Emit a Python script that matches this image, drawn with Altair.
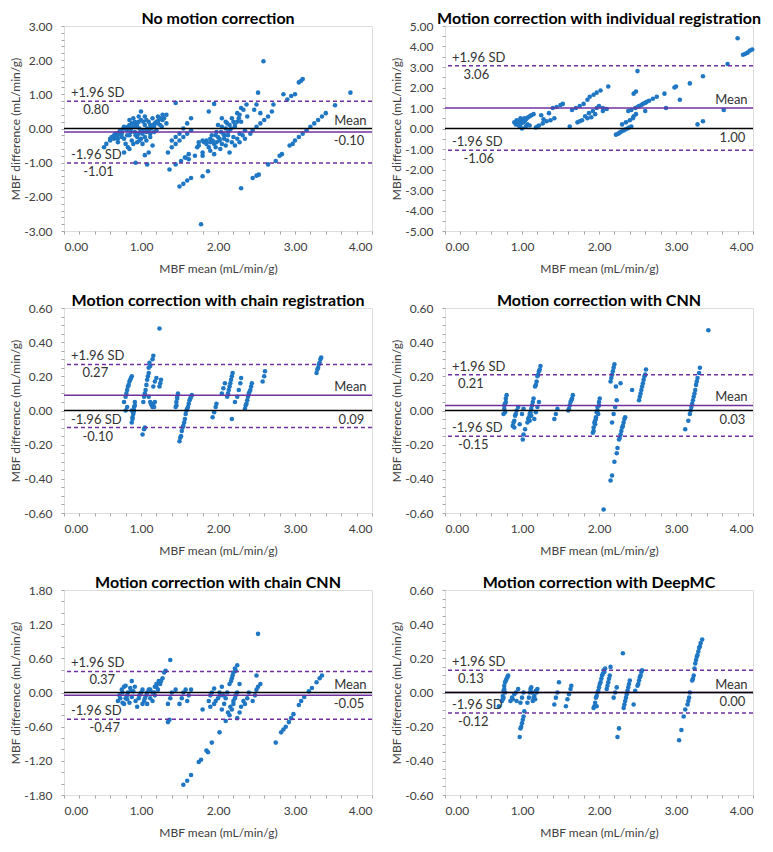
import altair as alt
import pandas as pd

FONT = "Lato"
POINT_COLOR = "#1F77C4"
PURPLE = "#7030A0"

TITLES = [
    "No motion correction",
    "Motion correction with individual registration",
    "Motion correction with chain registration",
    "Motion correction with CNN",
    "Motion correction with chain CNN",
    "Motion correction with DeepMC",
]
Y_MIN = [-3.0, -5.0, -0.6, -0.6, -1.8, -0.6]
Y_MAX = [3.0, 5.0, 0.6, 0.6, 1.8, 0.6]
Y_MAJOR = [1.0, 1.0, 0.2, 0.2, 0.6, 0.2]
Y_MINOR = [0.2, 0.5, 0.05, 0.05, 0.2, 0.05]
MEAN_DIFF = [-0.10, 1.00, 0.09, 0.03, -0.05, 0.00]
UPPER_LOA = [0.80, 3.06, 0.27, 0.21, 0.37, 0.13]
LOWER_LOA = [-1.01, -1.06, -0.10, -0.15, -0.47, -0.12]
VALUE_LABEL_X = [0.25, 0.24, 0.24, 0.17, 0.33, 0.17]

# (MBF mean, MBF difference)
P1 = [
    (0.52, -0.55), (0.55, -0.45), (0.60, -0.35), (0.65, -0.30), (0.70, -0.20), (0.75, -0.10), (0.80, 0.00), (0.85, 0.10),
    (0.60, -0.30), (0.68, -0.25), (0.75, -0.15), (0.82, -0.05), (0.90, 0.05), (0.95, 0.15), (1.00, 0.25), (1.05, 0.35),
    (0.70, -0.40), (0.78, -0.30), (0.85, -0.20), (0.92, -0.10), (0.98, 0.00), (1.05, 0.10), (1.10, 0.20), (1.15, 0.30),
    (0.80, -0.45), (0.88, -0.35), (0.95, -0.25), (1.02, -0.15), (1.10, -0.05), (1.17, 0.05), (1.22, 0.15), (1.28, 0.25),
    (0.85, -0.60), (0.90, -0.45), (0.98, -0.35), (1.05, -0.25), (1.12, -0.15), (1.20, -0.05), (1.27, 0.05), (1.33, 0.15),
    (0.78, -0.70), (0.83, -0.55), (1.02, -0.45), (1.00, 0.50), (0.97, 0.35), (0.90, 0.30), (0.92, 0.20), (0.85, 0.25),
    (0.65, -0.20), (0.72, -0.10), (0.78, 0.05), (0.88, 0.15), (0.95, 0.05), (1.00, -0.05), (1.08, 0.00), (1.15, 0.10),
    (1.20, 0.20), (1.25, 0.10), (1.30, 0.30), (1.33, 0.40),
    (0.62, -0.25), (0.67, -0.15), (0.73, -0.05), (0.77, 0.00), (0.83, 0.05), (0.87, 0.00), (0.93, 0.10), (0.97, 0.20),
    (1.03, 0.20), (1.07, 0.25), (1.12, 0.10), (1.18, 0.15), (1.23, 0.25), (1.25, 0.30), (0.70, -0.30), (0.75, -0.25),
    (0.82, -0.20), (0.87, -0.10), (0.93, -0.20), (0.97, -0.15), (1.03, -0.05), (1.07, -0.10), (1.13, 0.00), (1.17, -0.10),
    (0.95, -0.40), (1.00, -0.30), (1.07, -0.35), (1.12, -0.25),
    (0.93, -1.00), (1.08, -1.05), (1.05, -0.78), (1.10, -0.70), (1.15, -0.50), (1.28, 0.40), (1.22, 0.35),
    (1.35, -0.70), (1.40, -0.55), (1.45, -0.45), (1.50, -0.35), (1.55, -0.25), (1.60, -0.15), (1.65, -0.05),
    (1.37, -1.20), (1.45, -1.05), (1.52, -0.95), (1.58, -0.85), (1.62, -0.75),
    (1.40, -0.35), (1.45, -0.25), (1.50, -0.15), (1.55, 0.00), (1.60, 0.15), (1.65, 0.30),
    (1.50, -1.70), (1.55, -1.62), (1.60, -1.52), (1.65, -1.45),
    (1.45, 0.75), (1.57, -0.85), (1.62, -0.90), (1.70, -0.80), (1.73, -0.55), (1.75, -0.40), (1.80, -0.35),
    (1.78, -2.80), (1.80, -1.40), (1.87, -1.25),
    (1.75, -0.50), (1.82, -0.40), (1.90, -0.30), (1.97, -0.20), (2.04, -0.10), (2.10, 0.00), (2.15, 0.10), (2.20, 0.20), (2.28, 0.40), (2.33, 0.55),
    (1.80, -0.70), (1.88, -0.55), (1.95, -0.45), (2.02, -0.30), (2.08, -0.20), (2.15, -0.05), (2.22, 0.05), (2.30, 0.20), (2.38, 0.35),
    (1.85, -0.35), (1.92, -0.20), (1.98, -0.10), (2.05, 0.05), (2.12, 0.15), (2.18, 0.30), (2.25, 0.45), (2.30, 0.60), (2.37, 0.70),
    (1.80, -0.80), (1.90, -0.65), (1.97, -0.55), (2.05, -0.45), (2.12, -0.35), (2.20, -0.25), (2.28, -0.15), (2.35, -0.05),
    (1.95, -0.75), (2.03, -0.60), (2.10, -0.50), (2.18, -0.40), (2.25, -0.30), (2.32, -0.20),
    (2.15, -0.70), (2.22, -0.50), (2.28, -0.40), (2.35, -0.30), (2.42, -0.15),
    (1.85, -0.45), (1.90, -0.40), (1.93, -0.35), (2.00, -0.25), (2.07, -0.15), (2.13, -0.10), (2.17, 0.00), (2.22, 0.10),
    (2.25, 0.20), (2.27, 0.30), (1.98, -0.40), (2.02, -0.35), (2.08, -0.30), (2.13, -0.20),
    (1.88, 0.50), (1.95, 0.72), (2.00, 0.10), (2.10, 0.20), (2.05, 0.30),
    (2.30, -1.75),
    (2.45, -0.05), (2.50, 0.05), (2.55, 0.15), (2.60, 0.25), (2.65, 0.35), (2.70, 0.50), (2.72, 0.70),
    (2.45, -1.45), (2.50, -1.38), (2.53, -1.35),
    (2.47, 0.55), (2.52, 1.05), (2.50, 0.70), (2.59, 1.97), (2.55, 0.45),
    (2.65, -1.05), (2.75, -0.95), (2.80, -0.80), (2.83, -0.75),
    (2.85, 1.00), (2.90, 0.85), (2.95, 0.95), (3.00, 1.00),
    (2.93, -0.50), (2.97, -0.45), (3.00, -0.35), (3.05, -0.25), (3.10, -0.15), (3.15, -0.05), (3.20, 0.05),
    (3.25, 0.15), (3.30, 0.25), (3.35, 0.35), (3.40, 0.45),
    (3.05, 1.35), (3.08, 1.40), (3.10, 1.45),
    (3.52, 0.68), (3.72, 1.05),
]

P2 = [
    (0.90, 0.30), (0.92, 0.20), (0.95, 0.35), (0.97, 0.10), (1.00, 0.00), (1.00, 0.40), (1.03, 0.50), (1.05, 0.45),
    (1.05, 0.10), (1.08, 0.55), (1.10, 0.60), (1.12, 0.65), (1.15, 0.70), (0.93, 0.40), (0.98, 0.50), (1.02, 0.30),
    (1.07, 0.20), (1.10, 0.15), (0.95, 0.20), (1.20, 0.10), (1.18, 0.05), (1.25, 0.65), (1.28, 0.45),
    (0.92, 0.25), (0.94, 0.30), (0.96, 0.15), (0.99, 0.25), (1.01, 0.35), (1.04, 0.40), (1.06, 0.50),
    (1.22, 0.15), (1.27, 0.25), (1.32, 0.35), (1.37, 0.40), (1.42, 0.50),
    (1.35, 0.75), (1.40, 1.00), (1.45, 1.05), (1.50, 1.15), (1.53, 1.20),
    (1.62, 0.10), (1.65, 0.90), (1.70, 1.00), (1.75, 1.10), (1.80, 1.20), (1.85, 1.40), (1.88, 1.55), (1.93, 1.65),
    (1.97, 1.75), (2.02, 1.85), (1.72, 0.30), (1.78, 0.40), (1.82, 0.60), (1.87, 0.75), (1.92, 0.85), (1.97, 1.00),
    (2.00, 1.10), (1.85, 0.50), (1.90, 0.55), (1.95, 0.70), (2.05, 0.85), (2.10, 0.95), (2.12, 2.05), (2.05, 1.00),
    (1.75, 0.35),
    (2.22, -0.30), (2.27, -0.20), (2.32, -0.10), (2.37, 0.00), (2.42, 0.10), (2.30, 0.20), (2.35, 0.30), (2.40, 0.40),
    (2.45, 0.60), (2.48, 0.70), (2.38, 0.85), (2.42, 0.90), (2.47, 1.00), (2.50, 1.05), (2.55, 1.15), (2.60, 1.25),
    (2.65, 1.35), (2.70, 1.45), (2.75, 1.55), (2.45, 1.70), (2.48, 1.80), (2.50, 2.80), (2.60, 0.85), (2.85, 1.70),
    (2.87, 1.00),
    (2.25, -0.25), (2.29, -0.15), (2.34, -0.05), (2.39, 0.05), (2.44, 0.50), (2.52, 1.10), (2.57, 1.20), (2.62, 1.30),
    (2.98, 2.00), (3.00, 2.05), (3.05, 1.40), (3.18, 2.20), (3.28, 0.20), (3.35, 0.35), (3.35, 2.55), (3.62, 0.90),
    (3.67, 3.15), (3.80, 4.40), (3.87, 3.60), (3.90, 3.65), (3.93, 3.70), (3.96, 3.80), (3.99, 3.85),
]

P3 = [
    (0.78, 0.05), (0.80, 0.08), (0.82, 0.12), (0.84, 0.15), (0.86, 0.18), (0.88, 0.20), (0.80, 0.00), (0.82, 0.02),
    (0.81, 0.10), (0.83, 0.14), (0.85, 0.17), (0.87, 0.19),
    (0.88, -0.07), (0.89, -0.04), (0.90, -0.01), (0.91, 0.02), (0.92, 0.05), (0.90, -0.02), (0.88, 0.00),
    (0.89, -0.05), (0.91, 0.00), (0.92, 0.03),
    (1.02, -0.14), (1.04, -0.11), (1.05, -0.10),
    (1.03, 0.05), (1.05, 0.10), (1.07, 0.15), (1.09, 0.20), (1.10, 0.25), (1.11, 0.28), (1.15, 0.30), (1.16, 0.32),
    (1.04, 0.08), (1.06, 0.12), (1.08, 0.18), (1.10, 0.22), (1.12, 0.26),
    (1.10, 0.08), (1.12, 0.05), (1.14, 0.03), (1.16, 0.04), (1.17, 0.02), (1.18, 0.05), (1.13, 0.04), (1.15, 0.02),
    (1.16, 0.14), (1.18, 0.17), (1.20, 0.19),
    (1.24, 0.14), (1.25, 0.16), (1.26, 0.18),
    (1.24, 0.48),
    (1.45, 0.02), (1.46, 0.05), (1.47, 0.08), (1.48, 0.10), (1.46, 0.03), (1.47, 0.07),
    (1.50, -0.18), (1.52, -0.15), (1.53, -0.12), (1.55, -0.09), (1.57, -0.05), (1.58, -0.02), (1.60, 0.01),
    (1.62, 0.04), (1.64, 0.07), (1.66, 0.09),
    (1.51, -0.16), (1.54, -0.10), (1.56, -0.07), (1.59, 0.00), (1.61, 0.02), (1.63, 0.06), (1.65, 0.08),
    (1.93, -0.04), (1.95, -0.01), (1.97, 0.02), (1.98, 0.04),
    (2.05, 0.10), (2.07, 0.13), (2.09, 0.16),
    (2.12, 0.08), (2.14, 0.12), (2.16, 0.16), (2.18, 0.20), (2.19, 0.22), (2.13, 0.10), (2.15, 0.14), (2.17, 0.18),
    (2.22, 0.05), (2.18, -0.05),
    (2.25, 0.08), (2.27, 0.12), (2.29, 0.16), (2.30, 0.19),
    (2.35, 0.01), (2.37, 0.04), (2.39, 0.08), (2.41, 0.11), (2.43, 0.14), (2.44, 0.16),
    (2.36, 0.03), (2.38, 0.06), (2.40, 0.10), (2.42, 0.12),
    (2.58, 0.17), (2.60, 0.20), (2.61, 0.23),
    (3.28, 0.22), (3.30, 0.25), (3.32, 0.28), (3.34, 0.31), (3.29, 0.24), (3.31, 0.27), (3.33, 0.30),
]

P4 = [
    (0.76, -0.02), (0.77, 0.01), (0.78, 0.04), (0.79, 0.07), (0.80, 0.09), (0.78, -0.01), (0.77, 0.03), (0.79, 0.05),
    (0.88, -0.09), (0.90, -0.06), (0.91, -0.03), (0.93, 0.00), (0.95, 0.02), (0.90, -0.10), (0.89, -0.07), (0.92, -0.02),
    (0.97, -0.08),
    (1.01, -0.17), (1.02, -0.14), (1.04, -0.11), (1.00, -0.02), (1.02, 0.01),
    (1.07, -0.07), (1.09, -0.04), (1.11, -0.01), (1.13, 0.03), (1.15, 0.07), (1.10, -0.06), (1.12, -0.03),
    (1.08, -0.05), (1.10, -0.02), (1.12, 0.01), (1.14, 0.05),
    (1.17, 0.14), (1.19, 0.17), (1.20, 0.20), (1.22, 0.23), (1.24, 0.26), (1.18, 0.15), (1.21, 0.21), (1.23, 0.24),
    (1.16, -0.05), (1.18, -0.01), (1.20, 0.02), (1.22, 0.05),
    (1.42, -0.05), (1.44, -0.02), (1.46, 0.01),
    (1.60, 0.00), (1.62, 0.03), (1.64, 0.06), (1.66, 0.09), (1.61, 0.01), (1.63, 0.05), (1.65, 0.07),
    (1.92, -0.13), (1.93, -0.10), (1.94, -0.07), (1.96, -0.04), (1.97, -0.01), (1.98, 0.02), (2.00, 0.05),
    (2.01, 0.07), (1.95, -0.06), (1.99, -0.02), (1.93, -0.12), (1.95, -0.08), (1.96, -0.05), (1.98, 0.00), (2.00, 0.03),
    (2.15, 0.17), (2.17, 0.21), (2.19, 0.25), (2.20, 0.27), (2.16, 0.19), (2.18, 0.23),
    (2.17, -0.07), (2.19, -0.02), (2.21, 0.02), (2.23, 0.06),
    (2.22, 0.14), (2.28, 0.16),
    (2.26, -0.17), (2.28, -0.14), (2.30, -0.10), (2.32, -0.07), (2.34, -0.04),
    (2.27, -0.16), (2.29, -0.12), (2.31, -0.09), (2.33, -0.05),
    (2.24, -0.22), (2.23, -0.25), (2.20, -0.30), (2.17, -0.38), (2.15, -0.41), (2.06, -0.58),
    (2.43, 0.12),
    (2.52, 0.06), (2.54, 0.10), (2.56, 0.14), (2.58, 0.18), (2.60, 0.21), (2.61, 0.24),
    (2.53, 0.08), (2.55, 0.12), (2.57, 0.16), (2.59, 0.20),
    (3.12, -0.11), (3.16, -0.06),
    (3.18, -0.02), (3.20, 0.02), (3.22, 0.06), (3.24, 0.10), (3.26, 0.15), (3.28, 0.19), (3.30, 0.22), (3.31, 0.25),
    (3.19, 0.00), (3.21, 0.04), (3.23, 0.08), (3.25, 0.12), (3.27, 0.17),
    (3.42, 0.47),
]

P5 = [
    (0.70, -0.15), (0.72, -0.05), (0.75, 0.05), (0.78, 0.10), (0.80, 0.12),
    (0.78, -0.20), (0.80, -0.10), (0.83, 0.00), (0.86, 0.08),
    (0.85, -0.18), (0.88, -0.08), (0.90, 0.02), (0.92, 0.10),
    (0.88, 0.20), (0.95, -0.25), (0.97, -0.10), (1.00, 0.00), (1.02, 0.05),
    (1.02, -0.20), (1.05, -0.10), (1.08, 0.00), (1.10, 0.05),
    (1.08, -0.20), (1.12, -0.10), (1.15, 0.00), (1.18, 0.10), (1.20, 0.15),
    (1.15, -0.15), (1.18, -0.05), (1.22, 0.05), (1.25, 0.15), (1.28, 0.25), (1.30, 0.35), (1.32, 0.38),
    (0.73, -0.10), (0.76, 0.00), (0.82, -0.05), (0.87, 0.03), (0.93, -0.15), (0.98, -0.05), (1.04, -0.15),
    (1.07, -0.05), (1.12, 0.05), (1.17, 0.00), (1.20, 0.10), (1.23, 0.20), (1.26, 0.20), (0.76, -0.18), (0.82, -0.12),
    (1.38, 0.57), (1.35, -0.52), (1.37, -0.48),
    (1.35, -0.20), (1.38, -0.10), (1.40, 0.00), (1.45, 0.05),
    (1.50, -0.20), (1.53, -0.10), (1.55, 0.00), (1.58, 0.05),
    (1.60, -0.15), (1.62, -0.05), (1.65, 0.05),
    (1.80, -0.30), (1.88, -0.15), (1.90, -0.05), (1.92, 0.00), (1.95, 0.07), (1.90, -0.25), (1.95, -0.20),
    (2.00, -0.10), (2.02, 0.00), (2.05, 0.10), (2.07, -0.05), (2.05, -0.30), (2.08, -0.20), (2.10, -0.10),
    (2.12, 0.00), (2.15, 0.15), (2.18, 0.25), (2.20, 0.35), (2.22, 0.42), (2.25, 0.48),
    (2.17, 0.20), (2.19, 0.30), (2.23, 0.38), (2.13, -0.35), (2.16, -0.25), (2.20, -0.15), (2.23, -0.05),
    (1.97, -0.15), (2.03, -0.05),
    (2.10, -0.50), (2.15, -0.40), (2.18, -0.30), (2.20, -0.20), (2.22, -0.10), (2.25, 0.00), (2.28, 0.15),
    (2.25, -0.45), (2.28, -0.35), (2.30, -0.25), (2.33, -0.15),
    (2.35, -0.20), (2.38, -0.10), (2.40, 0.00), (2.45, -0.15), (2.48, -0.05), (2.50, 0.05), (2.52, 0.10), (2.55, 0.15),
    (2.50, 0.30), (2.52, 1.03),
    (2.02, -0.70), (1.92, -0.88), (1.85, -1.02), (1.87, -1.05), (1.78, -1.18), (1.75, -1.22), (1.65, -1.45),
    (1.60, -1.55), (1.55, -1.62),
    (2.75, -0.88), (2.82, -0.70), (2.85, -0.65), (2.88, -0.60), (2.92, -0.52), (2.95, -0.45), (2.98, -0.38),
    (3.05, -0.22), (3.08, -0.15), (3.12, -0.08), (3.18, 0.02), (3.22, 0.08), (3.28, 0.18), (3.32, 0.25), (3.35, 0.30),
]

P6 = [
    (0.70, -0.08),
    (0.74, -0.05), (0.75, -0.02), (0.76, 0.01), (0.77, 0.04), (0.78, 0.06), (0.80, 0.08), (0.82, 0.10), (0.75, -0.04), (0.78, 0.00),
    (0.76, -0.03), (0.77, 0.02), (0.79, 0.07), (0.81, 0.09),
    (0.85, -0.05), (0.87, -0.03), (0.90, -0.01), (0.92, 0.00), (0.95, 0.02), (0.88, -0.04), (0.93, -0.05),
    (0.97, -0.26), (0.98, -0.21), (1.00, -0.18), (1.02, -0.14), (1.03, -0.11), (0.99, -0.20), (1.01, -0.16),
    (0.98, -0.06), (1.00, -0.03), (1.02, 0.00),
    (1.07, -0.06), (1.09, -0.03), (1.10, 0.00), (1.12, 0.03), (1.14, -0.05), (1.16, -0.02), (1.18, 0.01),
    (1.20, 0.02), (1.13, 0.00), (1.17, -0.04), (1.11, 0.02), (1.15, -0.03), (1.19, 0.00),
    (1.42, -0.07), (1.44, -0.03), (1.46, 0.00), (1.48, 0.06),
    (1.57, -0.08), (1.59, -0.04), (1.61, -0.01), (1.63, 0.02), (1.64, 0.04),
    (1.93, -0.09), (1.95, -0.06), (1.96, -0.03), (1.98, 0.00), (2.00, 0.03), (2.02, 0.06), (2.04, 0.10),
    (2.06, 0.13), (2.08, 0.14), (1.97, -0.08),
    (1.94, -0.08), (1.97, -0.02), (1.99, 0.01), (2.01, 0.05), (2.03, 0.08), (2.05, 0.11), (2.07, 0.12),
    (2.10, 0.02), (2.12, 0.06), (2.14, 0.10), (2.15, 0.15), (2.11, 0.04), (2.13, 0.08),
    (2.19, -0.03), (2.21, 0.00), (2.23, 0.03),
    (2.24, -0.26), (2.26, -0.21),
    (2.31, 0.23),
    (2.32, -0.09), (2.34, -0.05), (2.36, -0.01), (2.38, 0.03), (2.40, 0.07),
    (2.33, -0.07), (2.35, -0.03), (2.37, 0.01), (2.39, 0.05),
    (2.45, -0.07), (2.47, 0.01),
    (2.50, 0.04), (2.52, 0.07), (2.54, 0.10), (2.56, 0.13), (2.51, 0.05), (2.53, 0.09), (2.55, 0.12),
    (3.04, -0.28), (3.07, -0.22),
    (3.10, -0.14), (3.12, -0.10), (3.15, -0.07), (3.17, -0.03), (3.18, 0.00), (3.16, -0.05),
    (3.21, 0.07), (3.23, 0.10), (3.25, 0.17), (3.27, 0.21), (3.29, 0.24), (3.31, 0.27), (3.34, 0.31),
    (3.22, 0.08), (3.24, 0.14), (3.26, 0.19), (3.28, 0.22), (3.30, 0.26), (3.32, 0.29),
]

PANELS = [P1, P2, P3, P4, P5, P6]

X_TICKS = [round(0.2 * k, 2) for k in range(21)]
PLOT_W = 308
PLOT_H = 205
TEXT_COLOR = "#404040"


def label_expr(step):
    return (
        f"abs(datum.value - round(datum.value / {step}) * {step}) < 1e-6 ? "
        "replace(format(datum.value, '.2f'), '\u2212', '-') : ''"
    )


def panel(i):
    pts = pd.DataFrame(PANELS[i], columns=["x", "y"])
    lo, hi = Y_MIN[i], Y_MAX[i]
    n = int(round((hi - lo) / Y_MINOR[i]))
    y_ticks = [round(lo + Y_MINOR[i] * k, 4) for k in range(n + 1)]
    yscale = alt.Scale(domain=[lo, hi], nice=False, zero=False)
    xscale = alt.Scale(domain=[0, 4], nice=False)

    x_axis = alt.Axis(
        values=X_TICKS, labelExpr=label_expr(1.0), title="MBF mean (mL/min/g)",
        grid=False, domain=False, tickSize=3, tickColor="#A6A6A6", labelPadding=7,
        titlePadding=11, labelOverlap=False, labelFontSize=12, titleFontSize=12,
        labelFont=FONT, titleFont=FONT, labelColor=TEXT_COLOR, titleColor=TEXT_COLOR,
        titleFontWeight="normal",
    )
    y_axis = alt.Axis(
        values=y_ticks, labelExpr=label_expr(Y_MAJOR[i]), title="MBF difference (mL/min/g)",
        grid=False, domain=False, tickSize=3, tickColor="#A6A6A6", labelPadding=9,
        titlePadding=5, minExtent=37, maxExtent=37, labelOverlap=False, labelFontSize=12,
        titleFontSize=12, labelFont=FONT, titleFont=FONT, labelColor=TEXT_COLOR,
        titleColor=TEXT_COLOR, titleFontWeight="normal",
    )

    def X(field="x"):
        return alt.X(f"{field}:Q", scale=xscale, axis=x_axis, title="MBF mean (mL/min/g)")

    def Y(field="y"):
        return alt.Y(f"{field}:Q", scale=yscale, axis=y_axis, title="MBF difference (mL/min/g)")

    points = alt.Chart(pts).mark_circle(size=21, color=POINT_COLOR, opacity=1).encode(x=X(), y=Y())

    zero = alt.Chart(pd.DataFrame({"y": [0.0]})).mark_rule(color="black", strokeWidth=1.6).encode(y=Y())
    mean_rule = alt.Chart(pd.DataFrame({"y": [MEAN_DIFF[i]]})).mark_rule(
        color=PURPLE, strokeWidth=1.5).encode(y=Y())
    loa = alt.Chart(pd.DataFrame({"y": [UPPER_LOA[i], LOWER_LOA[i]]})).mark_rule(
        color=PURPLE, strokeWidth=1.5, strokeDash=[4, 3]
    ).encode(y=Y())

    def txt(rows, align, baseline, dy):
        df = pd.DataFrame(rows, columns=["x", "y", "t"])
        return alt.Chart(df).mark_text(
            align=align, baseline=baseline, dy=dy, font=FONT, fontSize=13, color="#333333"
        ).encode(x=X(), y=Y(), text="t:N")

    upper_lbl = f"{UPPER_LOA[i]:.2f}"
    lower_lbl = f"{LOWER_LOA[i]:.2f}"
    mean_lbl = f"{MEAN_DIFF[i]:.2f}"
    left_above = txt([(0.09, UPPER_LOA[i], "+1.96 SD"), (0.09, LOWER_LOA[i], "-1.96 SD")], "left", "bottom", -1)
    left_below = txt([(VALUE_LABEL_X[i], UPPER_LOA[i], upper_lbl),
                      (VALUE_LABEL_X[i], LOWER_LOA[i], lower_lbl)], "left", "top", 3)
    right_above = txt([(3.93, max(MEAN_DIFF[i], 0.0), "Mean")], "right", "bottom", -1)
    right_below = txt([(3.90, min(MEAN_DIFF[i], 0.0), mean_lbl)], "right", "top", 3)

    return alt.layer(
        points, loa, mean_rule, zero, left_above, left_below, right_above, right_below
    ).properties(
        width=PLOT_W, height=PLOT_H,
        title=alt.TitleParams(TITLES[i], fontSize=16, font=FONT, fontWeight="bold",
                              color="black", offset=-7, anchor="middle"),
    )


rows = [alt.hconcat(panel(2 * r), panel(2 * r + 1), spacing=15) for r in range(3)]
chart = alt.vconcat(*rows, spacing=17).properties(
    padding={"top": 2, "left": 0, "right": 0, "bottom": 0}
).configure_view(
    stroke="#A6A6A6", strokeWidth=1
).configure(background="white")

chart.save("out.html", embed_options={"renderer": "svg", "actions": False})
